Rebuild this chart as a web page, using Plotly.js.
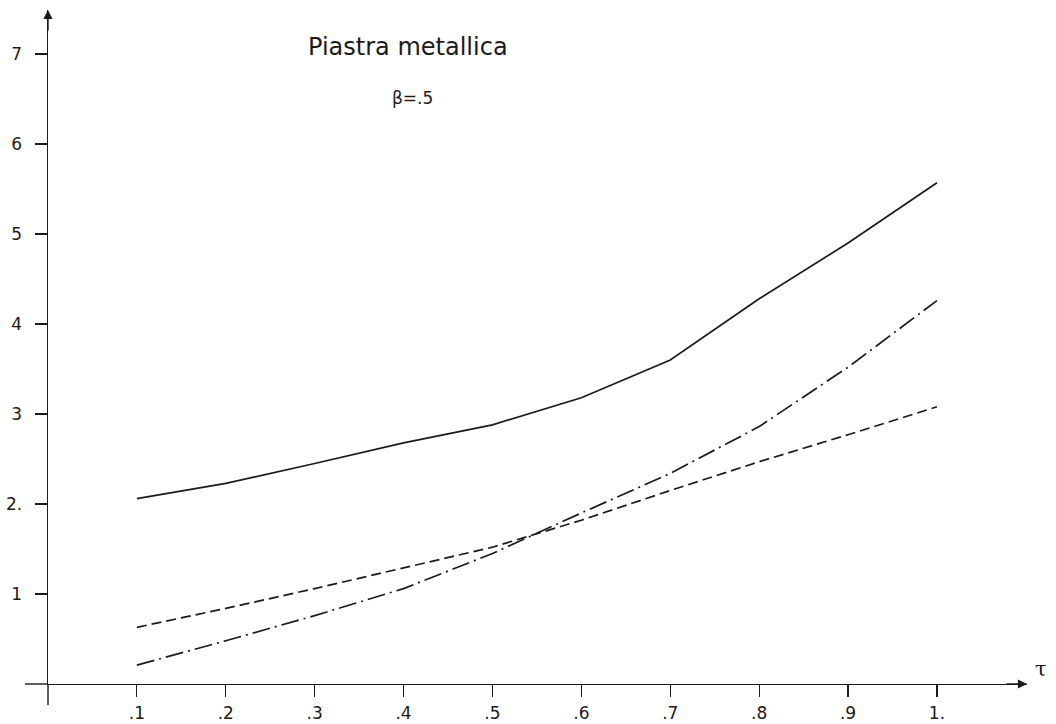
<!DOCTYPE html>
<html>
<head>
<meta charset="utf-8">
<script src="https://cdn.plot.ly/plotly-3.0.1.min.js"></script>
<style>html,body{margin:0;padding:0;background:#fff;}#chart{width:1056px;height:724px;}</style>
</head>
<body>
<div id="chart"></div>
<script>
const tau = [0.1, 0.2, 0.3, 0.4, 0.5, 0.6, 0.7, 0.8, 0.9, 1.0];
const solidSeries = [2.06, 2.23, 2.45, 2.68, 2.88, 3.18, 3.60, 4.28, 4.90, 5.57];
const dashedSeries = [0.63, 0.84, 1.06, 1.29, 1.52, 1.82, 2.15, 2.47, 2.77, 3.08];
const dashDotSeries = [0.21, 0.48, 0.76, 1.06, 1.45, 1.90, 2.34, 2.86, 3.52, 4.26];
const xTickVals = [0.1, 0.2, 0.3, 0.4, 0.5, 0.6, 0.7, 0.8, 0.9, 1.0];
const xTickText = ['.1', '.2', '.3', '.4', '.5', '.6', '.7', '.8', '.9', '1.'];
const yTickVals = [1, 2, 3, 4, 5, 6, 7];
const yTickText = ['1', '2.', '3', '4', '5', '6', '7'];
const titleText = 'Piastra metallica';
const subtitleText = 'β=.5';
const xAxisLabel = 'τ';

const ink = '#1a1a1a';
const traces = [
  {x: tau, y: solidSeries, mode: 'lines', line: {color: ink, width: 1.7}},
  {x: tau, y: dashedSeries, mode: 'lines', line: {color: ink, width: 1.7, dash: '10px,5px'}},
  {x: tau, y: dashDotSeries, mode: 'lines', line: {color: ink, width: 1.7, dash: '18px,5px,2px,5px'}}
];

const layout = {
  width: 1056, height: 724,
  margin: {l: 48, r: 29, t: 10, b: 40},
  paper_bgcolor: '#ffffff', plot_bgcolor: '#ffffff',
  showlegend: false,
  font: {family: 'DejaVu Sans, sans-serif', color: ink, size: 17},
  xaxis: {
    range: [0, 1.1013], showgrid: false, zeroline: false,
    showline: true, linecolor: ink, linewidth: 1.4,
    ticks: 'outside', ticklen: 12, tickwidth: 1.2, tickcolor: ink,
    tickvals: xTickVals, ticktext: xTickText,
    tickfont: {size: 17, color: ink}, ticklabelstandoff: 1
  },
  yaxis: {
    range: [0, 7.489], showgrid: false, zeroline: false,
    showline: true, linecolor: ink, linewidth: 1.4,
    ticks: 'outside', ticklen: 12, tickwidth: 1.2, tickcolor: ink,
    tickvals: yTickVals, ticktext: yTickText,
    tickfont: {size: 17, color: ink}, ticklabelstandoff: 9
  },
  shapes: [
    {type: 'line', xref: 'paper', yref: 'paper', x0: -0.0235, x1: 0, y0: 0, y1: 0, line: {color: ink, width: 1.4}},
    {type: 'line', xref: 'paper', yref: 'paper', x0: 0, x1: 0, y0: 0, y1: -0.031, line: {color: ink, width: 1.4}}
  ],
  annotations: [
    {xref: 'x', yref: 'y', x: 1.1013, y: 0, ax: -22, ay: 0, text: '', showarrow: true, arrowhead: 2, arrowsize: 1.3, arrowwidth: 1.4, arrowcolor: ink},
    {xref: 'x', yref: 'y', x: 0, y: 7.489, ax: 0, ay: 22, text: '', showarrow: true, arrowhead: 2, arrowsize: 1.3, arrowwidth: 1.4, arrowcolor: ink},
    {xref: 'paper', yref: 'y', x: 1.022, y: 0.17, text: xAxisLabel, showarrow: false, font: {size: 21, color: ink, family: 'DejaVu Serif, serif'}},
    {xref: 'x', yref: 'y', x: 0.405, y: 7.08, text: titleText, showarrow: false, font: {size: 24, color: ink, family: 'DejaVu Sans, sans-serif'}},
    {xref: 'x', yref: 'y', x: 0.41, y: 6.51, text: subtitleText, showarrow: false, font: {size: 17, color: ink, family: 'DejaVu Sans, sans-serif'}}
  ]
};

Plotly.newPlot('chart', traces, layout, {staticPlot: true, displayModeBar: false});
</script>
</body>
</html>
